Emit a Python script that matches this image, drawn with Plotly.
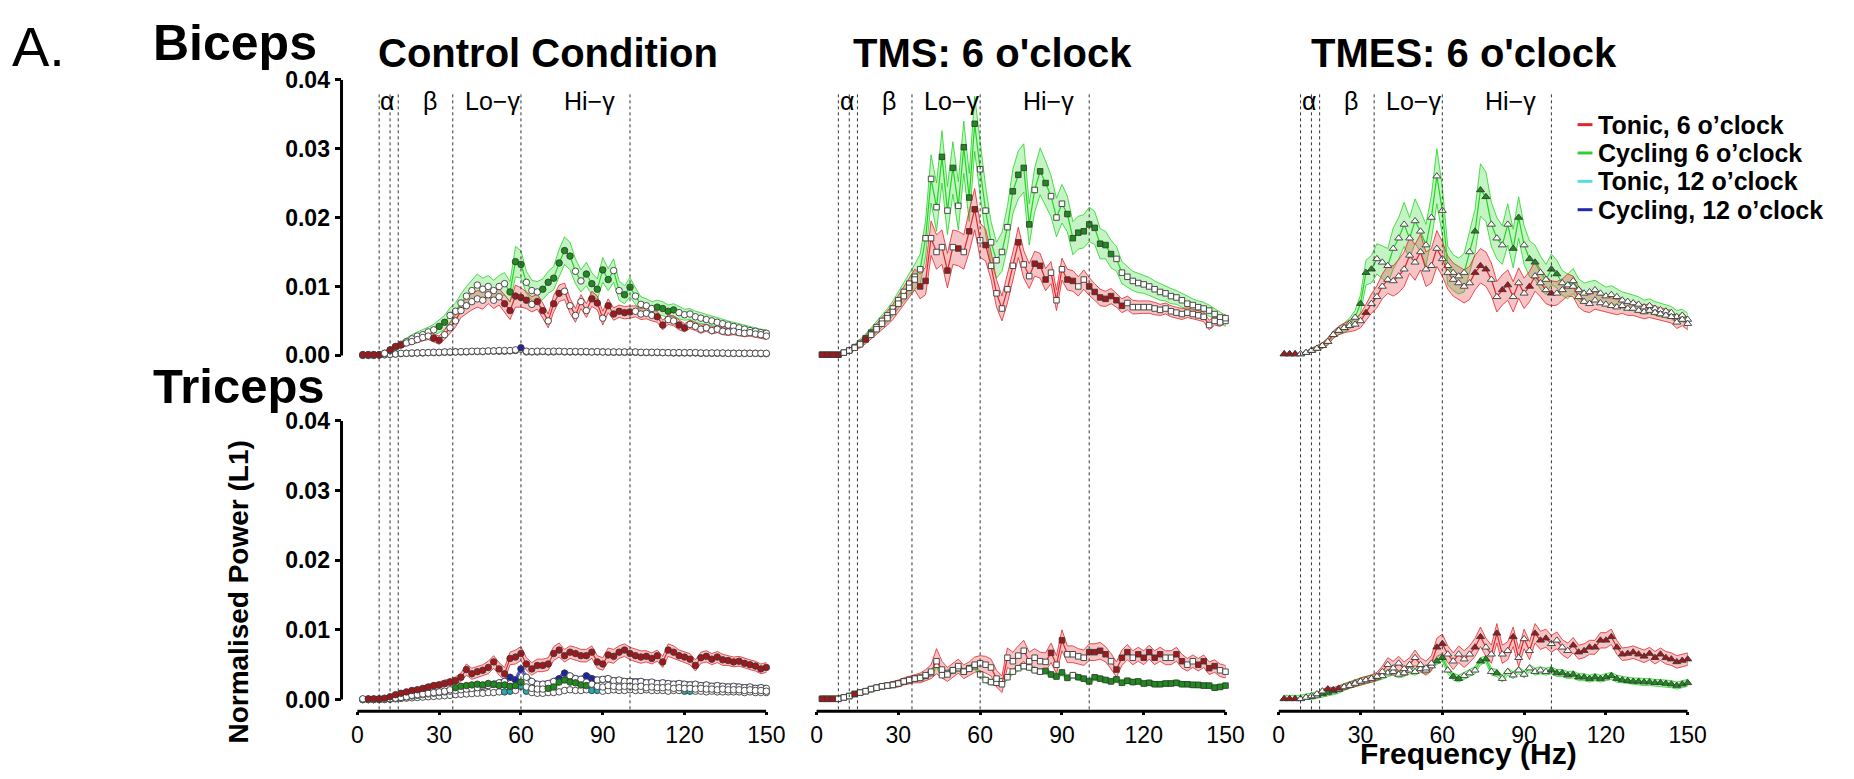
import plotly.graph_objects as go

#%% data (power values in units of 1e-3)
FREQ = [2, 4, 6, 8, 10, 12, 14, 16, 18, 20,
        22, 24, 26, 28, 30, 32, 34, 36, 38, 40,
        42, 44, 46, 48, 50, 52, 54, 56, 58, 60,
        62, 64, 66, 68, 70, 72, 74, 76, 78, 80,
        82, 84, 86, 88, 90, 92, 94, 96, 98, 100,
        102, 104, 106, 108, 110, 112, 114, 116, 118, 120,
        122, 124, 126, 128, 130, 132, 134, 136, 138, 140,
        142, 144, 146, 148, 150]

BAND_EDGES = [8, 12, 15, 35, 60, 100]
BAND_NAMES = ["α", "β", "Lo−γ", "Hi−γ"]
BAND_LABEL_HZ = [11, 26.5, 49.5, 85]

COL_TITLES = ["Control Condition", "TMS: 6 o'clock", "TMES: 6 o'clock"]
LEGEND_NAMES = ["Tonic, 6 o’clock", "Cycling 6 o’clock", "Tonic, 12 o’clock", "Cycling, 12 o’clock"]
Y_TICKS = [0, 0.01, 0.02, 0.03, 0.04]
Y_TICK_TEXT = ["0.00", "0.01", "0.02", "0.03", "0.04"]
X_TICKS = [0, 30, 60, 90, 120, 150]

# control condition, biceps
ctrl_bi_t6 = [0.1, 0.1, 0.1, 0.1, 0.3, 0.8, 1.3, 1.5, 1.8, 2.0,
              2.3, 2.6, 2.8, 2.5, 2.2, 3.0, 4.0, 5.0, 6.5, 7.2,
              7.8, 8.2, 8.0, 8.8, 8.0, 8.5, 7.5, 6.5, 8.6, 8.4,
              8.0, 7.4, 7.8, 6.5, 5.0, 7.5, 9.0, 9.3, 7.2, 5.8,
              7.8, 6.5, 8.2, 7.6, 5.4, 7.2, 6.0, 6.4, 6.2, 6.3,
              6.4, 6.0, 6.1, 5.8, 5.6, 4.4, 5.2, 5.0, 4.4, 4.0,
              4.5, 4.2, 3.8, 4.0, 3.6, 3.8, 3.5, 3.4, 3.5, 3.3,
              3.2, 3.3, 3.1, 3.0, 2.8]
ctrl_bi_t6_sem = [0.1, 0.1, 0.1, 0.1, 0.2, 0.3, 0.3, 0.4, 0.4, 0.4,
                  0.5, 0.5, 0.5, 0.6, 0.6, 0.7, 0.8, 0.9, 1.0, 1.1,
                  1.2, 1.2, 1.3, 1.3, 1.2, 1.2, 1.2, 1.3, 1.6, 1.4,
                  1.2, 1.1, 1.1, 1.1, 1.0, 1.2, 1.2, 1.2, 1.1, 1.0,
                  1.0, 1.0, 1.1, 1.0, 1.0, 1.0, 0.9, 0.9, 0.9, 0.9,
                  0.8, 0.8, 0.8, 0.8, 0.8, 0.7, 0.7, 0.7, 0.7, 0.6,
                  0.6, 0.6, 0.6, 0.5, 0.5, 0.5, 0.5, 0.5, 0.5, 0.5,
                  0.5, 0.5, 0.5, 0.5, 0.5]
ctrl_bi_c6 = [0.1, 0.1, 0.1, 0.1, 0.3, 0.7, 1.2, 1.6, 2.0, 2.4,
              2.8, 3.0, 3.4, 3.7, 4.2, 4.8, 5.8, 6.4, 7.6, 8.6,
              9.4, 10.2, 9.6, 10.0, 9.4, 10.0, 10.4, 9.2, 13.6, 13.2,
              10.6, 9.4, 9.2, 9.6, 10.6, 11.2, 13.4, 15.2, 14.4, 12.2,
              10.8, 11.8, 10.4, 9.6, 12.4, 11.0, 12.3, 9.4, 8.8, 9.9,
              8.6, 7.4, 7.2, 6.8, 7.0, 6.8, 6.4, 6.6, 6.2, 5.9,
              6.0, 5.6, 5.4, 5.2, 5.0, 4.8, 4.6, 4.4, 4.2, 4.0,
              3.8, 3.6, 3.5, 3.3, 3.2]
ctrl_bi_c6_sem = [0.1, 0.1, 0.1, 0.1, 0.2, 0.3, 0.4, 0.5, 0.5, 0.6,
                  0.6, 0.7, 0.7, 0.8, 0.9, 1.0, 1.1, 1.2, 1.3, 1.4,
                  1.5, 1.6, 1.6, 1.6, 1.5, 1.6, 1.6, 1.5, 2.2, 2.0,
                  1.6, 1.5, 1.5, 1.5, 1.6, 1.7, 2.0, 2.0, 2.0, 1.8,
                  1.6, 1.7, 1.6, 1.5, 1.8, 1.6, 1.7, 1.4, 1.3, 1.4,
                  1.2, 1.1, 1.0, 1.0, 1.0, 1.0, 0.9, 0.9, 0.9, 0.8,
                  0.8, 0.8, 0.8, 0.7, 0.7, 0.7, 0.6, 0.6, 0.6, 0.6,
                  0.6, 0.5, 0.5, 0.5, 0.5]
ctrl_bi_t12 = [0.0, 0.0, 0.0, 0.05, 0.1, 0.15, 0.2, 0.25, 0.3, 0.3,
               0.35, 0.35, 0.4, 0.4, 0.4, 0.45, 0.45, 0.5, 0.5, 0.5,
               0.55, 0.55, 0.55, 0.6, 0.6, 0.6, 0.6, 0.65, 0.7, 0.9,
               0.5, 0.5, 0.5, 0.55, 0.5, 0.5, 0.55, 0.5, 0.5, 0.5,
               0.5, 0.5, 0.5, 0.5, 0.5, 0.45, 0.45, 0.45, 0.45, 0.45,
               0.45, 0.4, 0.4, 0.4, 0.4, 0.4, 0.4, 0.35, 0.35, 0.35,
               0.35, 0.35, 0.3, 0.3, 0.3, 0.3, 0.3, 0.3, 0.3, 0.3,
               0.3, 0.3, 0.3, 0.25, 0.25]
ctrl_bi_t12_sem = 0.08
ctrl_bi_c12 = [0.0, 0.0, 0.0, 0.05, 0.1, 0.15, 0.2, 0.3, 0.3, 0.35,
               0.35, 0.4, 0.4, 0.45, 0.45, 0.5, 0.5, 0.5, 0.55, 0.55,
               0.6, 0.6, 0.6, 0.65, 0.65, 0.7, 0.7, 0.7, 0.8, 1.1,
               0.6, 0.55, 0.6, 0.6, 0.55, 0.6, 0.6, 0.55, 0.55, 0.55,
               0.55, 0.55, 0.5, 0.55, 0.5, 0.5, 0.5, 0.5, 0.5, 0.5,
               0.5, 0.45, 0.45, 0.45, 0.45, 0.4, 0.4, 0.4, 0.4, 0.4,
               0.4, 0.4, 0.35, 0.35, 0.35, 0.35, 0.35, 0.3, 0.3, 0.3,
               0.3, 0.3, 0.3, 0.3, 0.3]
ctrl_bi_c12_sem = 0.1

# control condition, triceps
ctrl_tri_t6 = [0.1, 0.1, 0.1, 0.1, 0.2, 0.4, 0.7, 0.9, 1.1, 1.3,
               1.4, 1.6, 1.8, 2.0, 2.1, 2.3, 2.5, 2.7, 3.2, 4.3,
               3.7, 4.0, 4.2, 4.6, 5.4, 4.4, 3.7, 5.9, 6.1, 6.6,
               5.1, 4.4, 4.9, 4.9, 5.1, 6.6, 7.1, 6.3, 6.8, 6.6,
               6.3, 6.3, 6.8, 5.4, 5.1, 6.4, 6.2, 6.8, 7.1, 6.6,
               6.3, 6.1, 6.2, 5.9, 6.3, 5.4, 7.1, 6.8, 6.3, 6.1,
               5.8, 4.9, 6.0, 6.2, 5.8, 6.1, 5.7, 5.6, 5.4, 5.5,
               5.2, 5.0, 4.8, 4.4, 4.6]
ctrl_tri_t6_sem = [0.05, 0.05, 0.05, 0.05, 0.1, 0.15, 0.2, 0.25, 0.3, 0.3,
                   0.3, 0.35, 0.4, 0.4, 0.45, 0.5, 0.5, 0.55, 0.6, 0.8,
                   0.8, 0.8, 0.8, 0.9, 0.9, 0.9, 0.9, 0.9, 1.0, 1.0,
                   0.9, 0.9, 0.9, 0.9, 0.9, 1.0, 1.0, 0.9, 0.9, 0.9,
                   0.9, 0.9, 0.9, 0.9, 0.9, 1.0, 1.0, 0.9, 0.9, 0.9,
                   0.9, 0.9, 0.8, 0.8, 0.8, 0.8, 0.9, 0.9, 0.8, 0.8,
                   0.8, 0.8, 0.8, 0.8, 0.8, 0.8, 0.8, 0.7, 0.7, 0.7,
                   0.7, 0.7, 0.7, 0.7, 0.7]
ctrl_tri_c6 = [0.0, 0.0, 0.0, 0.0, 0.05, 0.1, 0.2, 0.3, 0.4, 0.6,
               0.7, 0.8, 0.9, 1.0, 1.1, 1.2, 1.4, 1.7, 1.9, 2.0,
               2.1, 2.2, 2.1, 2.3, 2.2, 2.0, 2.1, 1.9, 2.0, 2.5,
               1.8, 1.6, 1.5, 1.5, 1.6, 1.8, 2.5, 2.8, 2.5, 2.4,
               2.1, 2.0, 2.2, 1.9, 1.8, 2.0, 1.9, 1.8, 1.9, 1.9,
               1.8, 1.9, 1.7, 1.8, 1.7, 1.7, 1.8, 1.6, 1.7, 1.6,
               1.6, 1.5, 1.6, 1.5, 1.5, 1.4, 1.5, 1.4, 1.4, 1.4,
               1.3, 1.4, 1.3, 1.3, 1.2]
ctrl_tri_c6_sem = 0.3
ctrl_tri_t12 = [0.0, 0.0, 0.0, 0.0, 0.0, 0.05, 0.1, 0.15, 0.2, 0.25,
                0.3, 0.35, 0.4, 0.45, 0.5, 0.55, 0.6, 0.7, 0.75, 0.8,
                0.85, 0.9, 0.9, 1.0, 1.0, 1.1, 1.1, 1.2, 1.3, 1.9,
                1.2, 1.0, 0.9, 0.9, 1.0, 1.0, 1.1, 1.3, 1.4, 1.3,
                1.3, 1.4, 1.3, 1.3, 1.2, 1.3, 1.4, 1.3, 1.3, 1.4,
                1.3, 1.3, 1.4, 1.3, 1.3, 1.3, 1.2, 1.3, 1.3, 1.2,
                1.2, 1.2, 1.2, 1.1, 1.2, 1.1, 1.1, 1.1, 1.1, 1.1,
                1.0, 1.1, 1.0, 1.0, 1.0]
ctrl_tri_t12_sem = 0.2
ctrl_tri_c12 = [0.0, 0.0, 0.0, 0.0, 0.05, 0.1, 0.2, 0.3, 0.4, 0.5,
                0.6, 0.7, 0.8, 0.9, 1.0, 1.1, 1.2, 1.3, 1.4, 1.5,
                1.6, 1.7, 1.9, 2.0, 2.2, 2.4, 2.6, 3.2, 2.8, 4.4,
                3.2, 2.6, 2.2, 2.2, 2.3, 2.6, 3.0, 3.8, 3.4, 3.0,
                2.9, 3.4, 3.0, 2.8, 2.9, 3.0, 2.7, 2.8, 2.6, 2.6,
                2.5, 2.6, 2.4, 2.5, 2.3, 2.4, 2.3, 2.2, 2.3, 2.2,
                2.1, 2.2, 2.0, 2.1, 1.9, 2.0, 1.9, 1.8, 1.9, 1.8,
                1.7, 1.8, 1.6, 1.7, 1.6]
ctrl_tri_c12_sem = 0.4

# TMS, biceps
tms_bi_t6 = [0.1, 0.1, 0.1, 0.1, 0.4, 0.7, 1.1, 1.6, 2.3, 3.0,
             3.8, 4.6, 5.4, 6.3, 7.5, 8.6, 9.8, 11.0, 10.0, 10.8,
             17.0, 15.0, 15.7, 12.3, 15.7, 15.5, 15.0, 18.0, 21.2, 16.7,
             16.0, 13.0, 9.0, 6.8, 9.6, 13.0, 16.4, 13.2, 11.5, 13.3,
             13.0, 11.0, 12.0, 8.0, 12.5, 11.0, 10.8, 10.0, 11.0, 10.0,
             9.2, 8.4, 8.2, 8.6, 8.0, 7.2, 7.6, 7.0, 7.0, 7.0,
             7.0, 6.8, 6.6, 6.8, 6.4, 6.2, 6.0, 6.2, 6.0, 5.8,
             5.6, 4.4, 5.0, 4.8, 5.4]
tms_bi_t6_sem = [0.1, 0.1, 0.1, 0.1, 0.2, 0.3, 0.4, 0.5, 0.6, 0.7,
                 0.8, 0.9, 1.0, 1.1, 1.2, 1.3, 1.4, 1.5, 1.8, 2.0,
                 2.5, 2.5, 2.5, 2.5, 2.5, 2.5, 2.5, 3.0, 3.0, 2.5,
                 2.3, 2.0, 2.0, 1.8, 2.0, 2.0, 2.2, 2.0, 1.8, 1.8,
                 1.8, 1.6, 1.6, 1.5, 1.6, 1.5, 1.5, 1.4, 1.4, 1.3,
                 1.2, 1.2, 1.1, 1.1, 1.0, 1.0, 1.0, 1.0, 0.9, 0.9,
                 0.9, 0.9, 0.8, 0.8, 0.8, 0.8, 0.8, 0.7, 0.7, 0.7,
                 0.7, 0.7, 0.6, 0.6, 0.6]
tms_bi_c6 = [0.1, 0.1, 0.1, 0.1, 0.4, 0.7, 1.2, 1.8, 2.5, 3.3,
             4.1, 5.0, 5.8, 6.8, 8.0, 9.2, 10.4, 11.4, 12.5, 17.0,
             25.6, 21.5, 28.8, 21.0, 27.2, 21.7, 30.2, 22.9, 33.6, 27.0,
             21.0, 16.4, 13.8, 15.0, 18.6, 23.8, 26.2, 27.2, 19.0, 24.0,
             26.7, 25.0, 23.1, 20.0, 22.0, 20.5, 17.0, 17.8, 18.0, 19.0,
             18.5, 16.2, 16.0, 14.7, 14.0, 12.0, 11.4, 10.8, 10.5, 10.3,
             10.0, 9.6, 9.2, 9.0, 8.6, 8.4, 8.0, 7.5, 7.3, 7.0,
             6.8, 6.5, 6.0, 5.5, 5.0]
tms_bi_c6_sem = [0.1, 0.1, 0.1, 0.1, 0.2, 0.3, 0.4, 0.5, 0.6, 0.7,
                 0.8, 0.9, 1.0, 1.1, 1.2, 1.4, 1.6, 1.8, 2.2, 2.6,
                 3.5, 3.5, 3.8, 3.5, 3.8, 3.5, 3.8, 3.5, 4.0, 3.8,
                 3.5, 3.0, 2.6, 2.8, 3.0, 3.2, 3.5, 3.5, 3.0, 3.2,
                 3.4, 3.2, 3.0, 2.8, 2.8, 2.6, 2.4, 2.4, 2.4, 2.5,
                 2.4, 2.2, 2.0, 2.0, 1.8, 1.6, 1.5, 1.4, 1.4, 1.3,
                 1.3, 1.2, 1.2, 1.1, 1.1, 1.0, 1.0, 1.0, 0.9, 0.9,
                 0.9, 0.8, 0.8, 0.8, 0.8]

# TMS, triceps
tms_tri_t6 = [0.1, 0.1, 0.1, 0.1, 0.3, 0.5, 0.8, 1.0, 1.2, 1.5,
              1.7, 1.9, 2.0, 2.1, 2.3, 2.6, 2.8, 3.0, 3.1, 3.5,
              4.0, 5.5, 4.3, 3.6, 4.2, 4.8, 4.0, 4.4, 5.0, 5.2,
              5.0, 4.6, 3.0, 2.2, 6.0, 5.5, 6.3, 7.0, 5.5, 6.0,
              5.5, 5.4, 6.7, 5.0, 8.5, 6.5, 6.5, 6.2, 6.0, 6.8,
              6.8, 7.0, 6.5, 5.5, 4.3, 6.0, 6.8, 6.0, 6.5, 6.0,
              6.8, 6.0, 6.5, 6.0, 6.0, 6.5, 5.5, 5.0, 5.5, 5.0,
              5.5, 4.5, 4.8, 4.2, 4.0]
tms_tri_t6_sem = [0.05, 0.05, 0.05, 0.05, 0.1, 0.15, 0.2, 0.25, 0.3, 0.3,
                  0.35, 0.4, 0.4, 0.45, 0.5, 0.5, 0.55, 0.6, 0.7, 0.8,
                  1.0, 1.8, 1.2, 1.0, 1.0, 1.0, 1.0, 1.0, 1.1, 1.1,
                  1.2, 1.2, 1.2, 1.2, 1.4, 1.3, 1.4, 1.5, 1.3, 1.3,
                  1.3, 1.3, 1.4, 1.3, 1.5, 1.2, 1.2, 1.1, 1.1, 1.2,
                  1.2, 1.2, 1.1, 1.1, 1.1, 1.1, 1.1, 1.0, 1.0, 1.0,
                  1.0, 1.0, 1.0, 1.0, 1.0, 1.0, 1.0, 0.9, 0.9, 0.9,
                  0.9, 0.9, 0.9, 0.9, 0.9]
tms_tri_c6 = [0.1, 0.1, 0.1, 0.1, 0.3, 0.5, 0.8, 1.0, 1.2, 1.5,
              1.7, 1.9, 2.0, 2.1, 2.3, 2.6, 2.8, 3.0, 3.1, 3.4,
              3.8, 5.0, 3.5, 3.8, 4.2, 4.5, 4.0, 4.5, 4.8, 3.6,
              2.8, 2.5, 2.4, 2.6, 3.2, 4.0, 4.5, 4.8, 4.6, 4.2,
              4.0, 4.1, 3.6, 3.3, 3.9, 3.1, 3.5, 3.2, 3.0, 2.6,
              3.2, 3.0, 2.8, 2.6, 2.9, 2.4, 2.7, 2.5, 2.6, 2.3,
              2.4, 2.2, 2.2, 2.3, 2.3, 2.4, 2.2, 2.2, 2.1, 2.1,
              2.0, 2.0, 1.7, 1.8, 2.0]
tms_tri_c6_sem = 0.4

# TMES, biceps
tmes_bi_t6 = [0.2, 0.2, 0.2, 0.2, 0.4, 0.7, 1.0, 1.4, 2.0, 3.0,
              3.6, 4.0, 4.3, 4.5, 5.0, 6.2, 7.5, 8.5, 10.0, 11.0,
              10.8, 11.5, 12.5, 14.5, 13.5, 15.0, 12.5, 13.0, 15.5, 14.0,
              12.0, 11.0, 10.5, 10.0, 10.5, 12.0, 13.0, 12.5, 11.0, 8.5,
              9.5, 10.2, 8.5, 10.5, 9.0, 10.0, 11.5, 10.5, 9.5, 9.0,
              9.0, 9.5, 10.2, 10.0, 8.5, 7.8, 7.5, 8.0, 7.6, 7.4,
              7.2, 7.0, 7.2, 6.8, 6.8, 6.5, 6.3, 6.5, 6.2, 6.0,
              5.8, 5.6, 4.8, 5.2, 4.6]
tmes_bi_t6_sem = [0.1, 0.1, 0.1, 0.1, 0.2, 0.3, 0.3, 0.4, 0.5, 0.5,
                  0.6, 0.7, 0.8, 0.9, 1.0, 1.2, 1.4, 1.6, 1.8, 2.0,
                  2.2, 2.4, 2.5, 2.6, 2.6, 2.6, 2.5, 2.5, 2.6, 2.5,
                  2.4, 2.4, 2.4, 2.4, 2.4, 2.5, 2.5, 2.5, 2.4, 2.2,
                  2.2, 2.2, 2.2, 2.2, 2.2, 2.2, 2.2, 2.0, 2.0, 1.8,
                  1.7, 1.6, 1.6, 1.5, 1.5, 1.4, 1.3, 1.3, 1.2, 1.2,
                  1.1, 1.1, 1.1, 1.0, 1.0, 1.0, 1.0, 1.0, 0.9, 0.9,
                  0.9, 0.9, 0.9, 0.9, 0.9]
tmes_bi_c6 = [0.2, 0.2, 0.2, 0.2, 0.4, 0.7, 1.0, 1.4, 2.0, 3.0,
              3.6, 4.0, 4.6, 5.5, 7.5, 12.0, 12.5, 14.0, 13.5, 13.0,
              15.5, 17.0, 19.0, 17.0, 19.5, 18.0, 16.0, 20.0, 26.0, 21.0,
              13.0, 12.0, 11.5, 12.0, 15.0, 18.0, 24.0, 23.0, 19.0, 17.0,
              16.0, 19.0, 15.5, 20.0, 16.0, 14.0, 13.5, 12.0, 11.0, 12.5,
              11.8, 10.5, 10.0, 10.8, 9.5, 9.0, 9.2, 9.5, 9.0, 8.6,
              8.8, 8.5, 8.0, 7.8, 7.6, 7.4, 7.0, 7.2, 6.8, 6.6,
              6.4, 6.2, 5.6, 5.8, 5.2]
tmes_bi_c6_sem = [0.1, 0.1, 0.1, 0.1, 0.2, 0.3, 0.3, 0.4, 0.5, 0.5,
                  0.6, 0.7, 0.8, 1.0, 1.3, 1.8, 2.0, 2.2, 2.4, 2.5,
                  3.0, 3.0, 3.2, 3.0, 3.2, 3.0, 3.0, 3.2, 4.0, 3.5,
                  2.8, 2.6, 2.6, 2.8, 3.0, 3.2, 3.8, 3.6, 3.2, 3.0,
                  2.8, 3.0, 2.8, 3.0, 2.8, 2.6, 2.5, 2.4, 2.2, 2.2,
                  2.0, 1.8, 1.8, 1.8, 1.6, 1.5, 1.5, 1.4, 1.4, 1.3,
                  1.3, 1.2, 1.2, 1.2, 1.1, 1.1, 1.0, 1.0, 1.0, 1.0,
                  1.0, 0.9, 0.9, 0.9, 0.9]

# TMES, triceps
tmes_tri_t6 = [0.1, 0.1, 0.1, 0.1, 0.3, 0.5, 0.8, 1.2, 1.5, 1.4,
               1.6, 1.8, 2.0, 2.3, 2.6, 2.8, 3.0, 3.3, 4.0, 5.0,
               4.5, 5.2, 4.4, 5.0, 6.0, 5.0, 4.5, 5.2, 7.5, 8.0,
               6.5, 5.5, 6.5, 5.8, 6.5, 7.5, 9.0, 7.5, 6.5, 9.5,
               6.5, 7.0, 9.0, 6.0, 8.7, 7.0, 9.5, 8.5, 8.8, 8.0,
               8.5, 7.5, 7.0, 7.8, 6.8, 7.0, 7.5, 7.5, 8.5, 8.5,
               9.0, 7.5, 6.5, 6.6, 6.8, 6.5, 6.2, 6.6, 6.0, 6.5,
               6.0, 5.8, 5.4, 5.6, 5.8]
tmes_tri_t6_sem = [0.05, 0.05, 0.05, 0.05, 0.1, 0.15, 0.2, 0.25, 0.3, 0.3,
                   0.35, 0.4, 0.4, 0.45, 0.5, 0.5, 0.55, 0.6, 0.8, 1.0,
                   1.0, 1.0, 1.0, 1.0, 1.1, 1.0, 1.0, 1.1, 1.3, 1.4,
                   1.2, 1.2, 1.2, 1.2, 1.2, 1.3, 1.4, 1.3, 1.3, 1.4,
                   1.3, 1.3, 1.4, 1.3, 1.4, 1.3, 1.4, 1.3, 1.3, 1.2,
                   1.2, 1.1, 1.1, 1.1, 1.0, 1.0, 1.0, 1.0, 1.1, 1.1,
                   1.1, 1.0, 0.9, 0.9, 0.9, 0.9, 0.9, 0.9, 0.9, 0.9,
                   0.9, 0.9, 0.9, 0.9, 0.9]
tmes_tri_c6 = [0.1, 0.1, 0.1, 0.1, 0.3, 0.4, 0.6, 0.8, 1.0, 1.2,
               1.4, 1.8, 2.1, 2.4, 2.6, 2.8, 3.0, 3.2, 3.4, 3.8,
               4.0, 3.6, 3.8, 4.2, 4.0, 4.4, 4.2, 4.8, 5.5, 6.0,
               4.2, 3.3, 3.0, 3.4, 3.8, 4.2, 5.5, 5.8, 4.0, 3.8,
               3.0, 4.0, 3.5, 4.2, 3.6, 4.5, 4.0, 4.2, 4.0, 4.2,
               3.8, 3.8, 3.5, 3.6, 3.2, 3.2, 3.0, 3.2, 3.0, 3.2,
               3.4, 3.0, 2.8, 2.7, 2.6, 2.6, 2.5, 2.5, 2.4, 2.4,
               2.3, 2.2, 2.0, 2.2, 2.4]
tmes_tri_c6_sem = 0.5

# frequency ranges (Hz) where the marker is drawn filled
ctrl_bi_t6_fill = [(2, 8), (12, 16), (28, 30), (54, 62), (66, 68), (72, 74), (86, 88), (92, 100), (110, 112), (118, 120)]
ctrl_bi_c6_fill = [(30, 32), (56, 60), (68, 70), (72, 78), (84, 86), (88, 92), (98, 100), (110, 116)]
ctrl_bi_t12_fill = []
ctrl_bi_c12_fill = [(60, 60)]
ctrl_tri_t6_fill = [(4, 150)]
ctrl_tri_c6_fill = [(36, 60), (70, 84)]
ctrl_tri_t12_fill = [(54, 56), (60, 62), (86, 88), (120, 122)]
ctrl_tri_c12_fill = [(56, 60), (74, 76), (84, 86)]
tms_bi_t6_fill = [(2, 8), (18, 18), (38, 40), (48, 48), (52, 52), (56, 58), (62, 62), (74, 74), (80, 84), (92, 94), (100, 112)]
tms_bi_c6_fill = [(18, 20), (46, 46), (50, 50), (54, 58), (72, 78), (82, 84), (92, 96), (98, 108)]
tms_tri_t6_fill = [(2, 6), (14, 14), (86, 86), (90, 90), (100, 106), (110, 114), (118, 126), (132, 134), (140, 146)]
tms_tri_c6_fill = [(84, 92), (96, 150)]
tmes_bi_t6_fill = [(2, 6), (32, 32), (72, 76), (82, 84), (92, 92), (100, 100)]
tmes_bi_c6_fill = [(30, 34), (72, 76), (86, 88), (92, 94), (100, 102)]
tmes_tri_t6_fill = [(2, 6), (18, 22), (58, 60), (72, 74), (80, 80), (86, 86), (94, 98), (108, 150)]
tmes_tri_c6_fill = [(16, 20), (36, 36), (58, 60), (64, 66), (74, 76), (80, 80), (100, 150)]

#%% styles
STY = {
    "t6": dict(line="#e3252b", band="rgba(228,70,70,0.32)", dot="#a3161b"),
    "c6": dict(line="#22d422", band="rgba(70,220,70,0.32)", dot="#1d8c1d"),
    "t12": dict(line="#3cd8d8", band="rgba(60,215,215,0.30)", dot="#27aab0"),
    "c12": dict(line="#2a2fb8", band="rgba(70,70,200,0.25)", dot="#1e22a8"),
}
LEG_COL = ["#e3252b", "#33cc33", "#55dede", "#2328a8"]
SYMBOLS = ["circle", "square", "triangle-up"]
SIZES = [6.5, 5.5, 7]
FONT = "Liberation Sans, Arial, sans-serif"

# page geometry (the page body adds an 8 px margin)
W, H, OFF = 1838, 763, 8
def px_x(v):
    return (v - OFF) / W
def px_y(v):
    return 1 - (v - OFF) / H

COL_ZERO = [361, 825, 1292]
HZ_PX = 2.755
X_RANGE = [-5.8, 150]
# pixel rows of the 0.04 and 0.00 levels and of the bottom of each plot area
ROWS = [dict(top=68, zero=350, bottom=359), dict(top=417, zero=702, bottom=714)]

panels = [
    [("t12", ctrl_bi_t12, ctrl_bi_t12_sem, ctrl_bi_t12_fill),
     ("c12", ctrl_bi_c12, ctrl_bi_c12_sem, ctrl_bi_c12_fill),
     ("c6", ctrl_bi_c6, ctrl_bi_c6_sem, ctrl_bi_c6_fill),
     ("t6", ctrl_bi_t6, ctrl_bi_t6_sem, ctrl_bi_t6_fill)],
    [("c6", tms_bi_c6, tms_bi_c6_sem, tms_bi_c6_fill),
     ("t6", tms_bi_t6, tms_bi_t6_sem, tms_bi_t6_fill)],
    [("c6", tmes_bi_c6, tmes_bi_c6_sem, tmes_bi_c6_fill),
     ("t6", tmes_bi_t6, tmes_bi_t6_sem, tmes_bi_t6_fill)],
    [("t12", ctrl_tri_t12, ctrl_tri_t12_sem, ctrl_tri_t12_fill),
     ("c12", ctrl_tri_c12, ctrl_tri_c12_sem, ctrl_tri_c12_fill),
     ("c6", ctrl_tri_c6, ctrl_tri_c6_sem, ctrl_tri_c6_fill),
     ("t6", ctrl_tri_t6, ctrl_tri_t6_sem, ctrl_tri_t6_fill)],
    [("c6", tms_tri_c6, tms_tri_c6_sem, tms_tri_c6_fill),
     ("t6", tms_tri_t6, tms_tri_t6_sem, tms_tri_t6_fill)],
    [("c6", tmes_tri_c6, tmes_tri_c6_sem, tmes_tri_c6_fill),
     ("t6", tmes_tri_t6, tmes_tri_t6_sem, tmes_tri_t6_fill)],
]

def filled(f, ranges):
    return any(lo <= f <= hi for lo, hi in ranges)

#%%
fig = go.Figure()

for k, series in enumerate(panels):
    col = k % 3
    xa, ya = "x%d" % (k + 1), "y%d" % (k + 1)
    # bands first
    for key, mean, sem, fill in series:
        assert len(mean) == len(FREQ)
        if not isinstance(sem, list):
            sem = [sem] * len(mean)
        up = [(m + s) / 1000 for m, s in zip(mean, sem)]
        lo = [max(m - s, 0) / 1000 for m, s in zip(mean, sem)]
        fig.add_trace(go.Scatter(
            x=FREQ + FREQ[::-1], y=up + lo[::-1], xaxis=xa, yaxis=ya,
            fill="toself", fillcolor=STY[key]["band"], mode="lines",
            line=dict(color=STY[key]["line"], width=0.8),
            hoverinfo="skip", showlegend=False))
    for key, mean, sem, fill in series:
        cols = [STY[key]["dot"] if filled(f, fill) else "white" for f in FREQ]
        fig.add_trace(go.Scatter(
            x=FREQ, y=[m / 1000 for m in mean], xaxis=xa, yaxis=ya,
            mode="lines+markers", cliponaxis=False,
            line=dict(color=STY[key]["line"], width=1.2),
            marker=dict(symbol=SYMBOLS[col], size=SIZES[col], color=cols,
                        line=dict(color="#3a3a3a", width=0.9)),
            showlegend=False))

layout = dict(
    width=W, height=H, margin=dict(l=0, r=0, t=0, b=0),
    paper_bgcolor="white", plot_bgcolor="rgba(0,0,0,0)",
    font=dict(family=FONT, color="black"), showlegend=False,
)

for k in range(6):
    row, col = k // 3, k % 3
    r = ROWS[row]
    z = COL_ZERO[col]
    per = (r["zero"] - r["top"]) / 0.04
    low = -(r["bottom"] - r["zero"]) / per
    xd = [px_x(z + X_RANGE[0] * HZ_PX), px_x(z + X_RANGE[1] * HZ_PX)]
    yd = [px_y(r["bottom"]), px_y(r["top"])]
    xax = dict(domain=xd, range=X_RANGE, anchor="y%d" % (k + 1),
               showgrid=False, zeroline=False, showline=False)
    if row == 0:
        xax.update(visible=False)
    else:
        xax.update(tickvals=X_TICKS, ticks="outside", ticklen=3, tickwidth=2.5,
                   tickcolor="black", tickfont=dict(size=23, family=FONT),
                   tickprefix="<b>", ticksuffix="</b>")
    yax = dict(domain=yd, range=[low, 0.04], anchor="x%d" % (k + 1),
               showgrid=False, zeroline=False, showline=False)
    if col == 0:
        yax.update(tickvals=Y_TICKS, ticktext=["<b>%s</b>" % t for t in Y_TICK_TEXT],
                   ticks="outside", ticklen=6, tickwidth=2.5, tickcolor="black",
                   tickfont=dict(size=23, family=FONT))
    else:
        yax.update(visible=False)
    key = "" if k == 0 else str(k + 1)
    layout["xaxis" + key] = xax
    layout["yaxis" + key] = yax

fig.update_layout(**layout)

shapes = []
ann = []
for col in range(3):
    xb = "x%d" % (col + 4)
    xt = "x%d" % (col + 1)
    for e in BAND_EDGES:
        shapes.append(dict(type="line", xref=xb, yref="paper", x0=e, x1=e,
                           y0=px_y(712), y1=px_y(80),
                           line=dict(color="#333", width=1, dash="dot")))
    for name, hz in zip(BAND_NAMES, BAND_LABEL_HZ):
        ann.append(dict(xref=xt, yref="paper", x=hz, y=px_y(90), text=name,
                        showarrow=False, font=dict(size=25, family=FONT),
                        xanchor="center", yanchor="middle"))
    # x axis line for bottom panels
    shapes.append(dict(type="line", xref=xb, yref="paper", x0=0, x1=150,
                       y0=px_y(714), y1=px_y(714), line=dict(color="black", width=3)))
# y axis lines on the control panels
for ya in ["y1", "y4"]:
    shapes.append(dict(type="line", xref="paper", yref=ya, x0=px_x(345), x1=px_x(345),
                       y0=0, y1=0.04, line=dict(color="black", width=3)))

# titles
title_x = [554, 1003, 1479]
for t, x in zip(COL_TITLES, title_x):
    ann.append(dict(xref="paper", yref="paper", x=px_x(x), y=px_y(41), text="<b>%s</b>" % t,
                    showarrow=False, font=dict(size=40, family=FONT), xanchor="center", yanchor="middle"))
ann.append(dict(xref="paper", yref="paper", x=px_x(10), y=px_y(34), text="A.",
                showarrow=False, font=dict(size=56, family=FONT), xanchor="left", yanchor="middle"))
ann.append(dict(xref="paper", yref="paper", x=px_x(152), y=px_y(30), text="<b>Biceps</b>",
                showarrow=False, font=dict(size=50, family=FONT), xanchor="left", yanchor="middle"))
ann.append(dict(xref="paper", yref="paper", x=px_x(152), y=px_y(381), text="<b>Triceps</b>",
                showarrow=False, font=dict(size=49, family=FONT), xanchor="left", yanchor="middle"))
ann.append(dict(xref="paper", yref="paper", x=px_x(241), y=px_y(592), text="<b>Normalised Power (L1)</b>",
                textangle=-90, showarrow=False, font=dict(size=28, family=FONT),
                xanchor="center", yanchor="middle"))
ann.append(dict(xref="paper", yref="paper", x=px_x(1484), y=px_y(757), text="<b>Frequency (Hz)</b>",
                showarrow=False, font=dict(size=30, family=FONT), xanchor="center", yanchor="middle"))

# legend
leg_y = [114, 143, 172, 201]
for name, c, y in zip(LEGEND_NAMES, LEG_COL, leg_y):
    shapes.append(dict(type="line", xref="paper", yref="paper", x0=px_x(1594), x1=px_x(1609),
                       y0=px_y(y), y1=px_y(y), line=dict(color=c, width=3)))
    ann.append(dict(xref="paper", yref="paper", x=px_x(1613), y=px_y(y), text="<b>%s</b>" % name,
                    showarrow=False, font=dict(size=25, family=FONT), xanchor="left", yanchor="middle"))

fig.update_layout(shapes=shapes, annotations=ann)
fig.write_html("out.html")
